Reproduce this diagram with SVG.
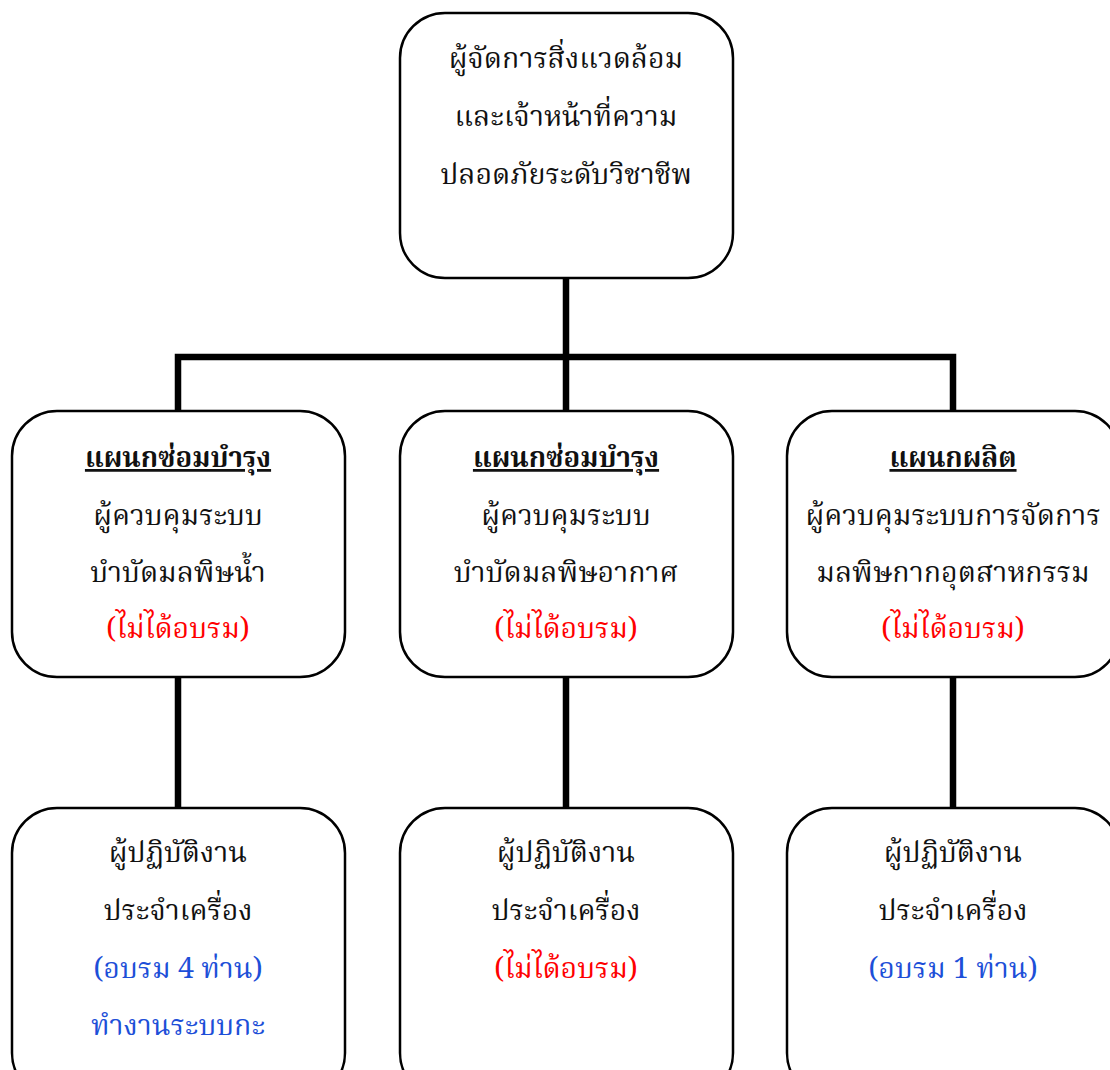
<svg xmlns="http://www.w3.org/2000/svg" width="1110" height="1070" viewBox="0 0 1110 1070">
<style>
.box{fill:#fff;stroke:#000;stroke-width:2.5}
.conn{fill:none;stroke:#000;stroke-width:6.5;stroke-linecap:square}
text{font-family:"Noto Serif Thai","Noto Sans Thai","Noto Sans","DejaVu Sans",sans-serif;font-size:28.5px;text-anchor:middle;fill:#111}
.h{font-weight:bold;text-decoration:underline;font-size:27.5px}
.red{fill:#ff0000}
.blue{fill:#1d4fd8}
</style>
<rect width="1110" height="1070" fill="#fff"/>
<g id="connectors">
<path class="conn" d="M566,278 V357 M178,357 H953 M178,357 V411 M566,357 V411 M953,357 V411"/>
<path class="conn" d="M178,677 V808 M566,677 V808 M953,677 V808"/>
</g>
<g id="n-top">
<rect class="box" x="400" y="13" width="333" height="265" rx="45"/>
<text x="566" y="68">ผู้จัดการสิ่งแวดล้อม</text>
<text x="566" y="126">และเจ้าหน้าที่ความ</text>
<text x="566" y="184">ปลอดภัยระดับวิชาชีพ</text>
</g>
<g id="n-water">
<rect class="box" x="12" y="411" width="333" height="266" rx="45"/>
<text class="h" x="178" y="467">แผนกซ่อมบำรุง</text>
<text x="178" y="525">ผู้ควบคุมระบบ</text>
<text x="178" y="582">บำบัดมลพิษน้ำ</text>
<text class="red" x="178" y="638">(ไม่ได้อบรม)</text>
</g>
<g id="n-air">
<rect class="box" x="400" y="411" width="333" height="266" rx="45"/>
<text class="h" x="566" y="467">แผนกซ่อมบำรุง</text>
<text x="566" y="525">ผู้ควบคุมระบบ</text>
<text x="566" y="582">บำบัดมลพิษอากาศ</text>
<text class="red" x="566" y="638">(ไม่ได้อบรม)</text>
</g>
<g id="n-prod">
<rect class="box" x="787" y="411" width="333" height="266" rx="45"/>
<text class="h" x="953" y="467">แผนกผลิต</text>
<text x="953" y="525">ผู้ควบคุมระบบการจัดการ</text>
<text x="953" y="582">มลพิษกากอุตสาหกรรม</text>
<text class="red" x="953" y="638">(ไม่ได้อบรม)</text>
</g>
<g id="n-op1">
<rect class="box" x="12" y="808" width="333" height="290" rx="45"/>
<text x="178" y="862">ผู้ปฏิบัติงาน</text>
<text x="178" y="920">ประจำเครื่อง</text>
<text class="blue" x="178" y="978">(อบรม 4 ท่าน)</text>
<text class="blue" x="178" y="1035">ทำงานระบบกะ</text>
</g>
<g id="n-op2">
<rect class="box" x="400" y="808" width="333" height="290" rx="45"/>
<text x="566" y="862">ผู้ปฏิบัติงาน</text>
<text x="566" y="920">ประจำเครื่อง</text>
<text class="red" x="566" y="978">(ไม่ได้อบรม)</text>
</g>
<g id="n-op3">
<rect class="box" x="787" y="808" width="333" height="290" rx="45"/>
<text x="953" y="862">ผู้ปฏิบัติงาน</text>
<text x="953" y="920">ประจำเครื่อง</text>
<text class="blue" x="953" y="978">(อบรม 1 ท่าน)</text>
</g>
</svg>
